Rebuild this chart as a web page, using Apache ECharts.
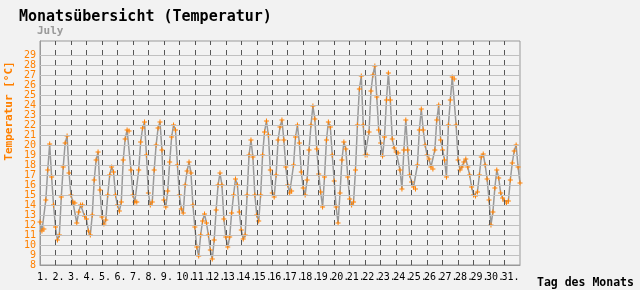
<!DOCTYPE html>
<html>
<head>
<meta charset="utf-8">
<script src="https://cdn.jsdelivr.net/npm/echarts@6/dist/echarts.min.js"></script>
<style>
html,body{margin:0;padding:0;background:#f2f2f2;}
#chart{width:640px;height:290px;}
</style>
</head>
<body>
<div id="chart"></div>
<script>
// Readings every 3 hours (0,3,...,21 h) for each day of July
const hours = [0, 3, 6, 9, 12, 15, 18, 21];
const day01 = [12.3, 11.4, 11.6, 14.5, 17.5, 20.1, 16.8, 14.0];
const day02 = [11.8, 10.5, 11.0, 14.8, 17.8, 20.2, 20.9, 17.2];
const day03 = [15.0, 14.3, 14.2, 12.2, 13.3, 14.0, 14.0, 12.9];
const day04 = [12.6, 11.4, 11.0, 13.0, 16.5, 18.5, 19.3, 15.5];
const day05 = [12.8, 12.1, 12.5, 15.0, 17.0, 17.8, 17.3, 15.0];
const day06 = [14.0, 13.4, 14.3, 18.5, 20.6, 21.5, 21.4, 17.5];
const day07 = [15.0, 14.3, 14.3, 17.5, 20.3, 21.7, 22.3, 19.0];
const day08 = [15.2, 14.0, 14.3, 17.5, 20.0, 21.7, 22.3, 19.5];
const day09 = [14.5, 13.8, 15.4, 18.3, 20.8, 22.0, 21.5, 18.0];
const day10 = [15.0, 13.6, 13.2, 16.0, 17.4, 18.3, 17.2, 14.0];
const day11 = [11.8, 9.8, 8.9, 11.0, 12.4, 13.1, 12.2, 11.0];
const day12 = [9.5, 8.6, 10.5, 13.5, 16.0, 17.2, 16.0, 12.6];
const day13 = [10.8, 9.8, 10.8, 13.2, 15.0, 16.6, 16.0, 13.3];
const day14 = [11.5, 10.6, 11.0, 15.0, 19.0, 20.5, 18.8, 15.0];
const day15 = [13.0, 12.4, 15.0, 19.0, 21.3, 22.4, 21.0, 17.5];
const day16 = [15.2, 14.8, 17.0, 20.5, 21.8, 22.5, 20.5, 17.8];
const day17 = [16.0, 15.2, 15.4, 18.0, 20.8, 22.0, 20.2, 17.3];
const day18 = [15.7, 15.0, 16.5, 19.5, 22.0, 23.9, 22.6, 19.6];
const day19 = [17.1, 15.3, 13.8, 16.8, 20.5, 22.3, 21.8, 19.0];
const day20 = [16.4, 13.8, 12.2, 15.2, 18.5, 20.3, 19.6, 16.8];
const day21 = [14.6, 14.0, 14.3, 17.5, 22.0, 25.6, 26.9, 22.0];
const day22 = [19.0, 19.0, 21.3, 25.4, 27.0, 27.9, 24.8, 21.5];
const day23 = [20.2, 18.9, 20.8, 24.5, 27.2, 24.5, 20.6, 19.7];
const day24 = [19.3, 19.2, 17.5, 15.6, 19.5, 22.5, 19.5, 17.0];
const day25 = [16.3, 15.8, 15.6, 18.0, 21.5, 23.6, 21.5, 20.0];
const day26 = [19.0, 18.6, 17.8, 17.6, 19.5, 22.5, 24.0, 20.5];
const day27 = [19.5, 18.5, 16.8, 22.0, 24.5, 26.8, 26.6, 22.0];
const day28 = [18.5, 17.5, 17.8, 18.3, 18.6, 17.8, 17.0, 15.8];
const day29 = [15.0, 14.9, 15.3, 17.0, 18.8, 19.1, 18.0, 16.6];
const day30 = [14.5, 12.0, 13.3, 15.7, 17.5, 16.7, 15.2, 14.7];
const day31 = [14.4, 14.2, 14.4, 16.5, 18.2, 19.4, 20.0, 17.8];
const finalReading = 16.2; // end of the month (24:00 on day 31)

const days = [day01, day02, day03, day04, day05, day06, day07, day08, day09, day10,
  day11, day12, day13, day14, day15, day16, day17, day18, day19, day20,
  day21, day22, day23, day24, day25, day26, day27, day28, day29, day30, day31];
const dayLabels = days.map((_, i) => (i + 1) + '.');
const tempTicks = [8, 9, 10, 11, 12, 13, 14, 15, 16, 17, 18, 19, 20, 21, 22, 23, 24, 25, 26, 27, 28, 29];

const points = [];
days.forEach((vals, d) => {
  vals.forEach((v, i) => points.push([d + hours[i] / 24, v]));
});
points.push([days.length, finalReading]);

const gridLines = [];
tempTicks.filter(v => v > tempTicks[0]).forEach(v => gridLines.push({
  yAxis: v, lineStyle: { color: '#c0c0c0', width: 1, type: 'solid' }
}));
for (let d = 1; d < days.length; d++) {
  gridLines.push({ xAxis: d, lineStyle: { color: '#555', width: 1, type: [5, 5] } });
}

const mono = 'DejaVu Sans Mono';
const chart = echarts.init(document.getElementById('chart'), null, { renderer: 'canvas' });
chart.setOption({
  backgroundColor: '#f2f2f2',
  animation: false,
  title: [
    { text: 'Monatsübersicht (Temperatur)', left: 19, top: 10, padding: 0,
      textStyle: { fontFamily: mono, fontSize: 15, fontWeight: 'bold', color: '#000' } },
    { text: 'July', left: 37, top: 26, padding: 0,
      textStyle: { fontFamily: mono, fontSize: 11, fontWeight: 'bold', color: '#9a9a9a' } }
  ],
  graphic: [
    { type: 'text', x: 9, y: 111, rotation: Math.PI / 2,
      style: { text: 'Temperatur [°C]', fill: '#ff8000', font: 'bold 11px "DejaVu Sans Mono"',
        align: 'center', verticalAlign: 'middle' } },
    { type: 'text', x: 537, y: 283,
      style: { text: 'Tag des Monats', fill: '#000', font: 'bold 11.5px "DejaVu Sans Mono"',
        align: 'left', verticalAlign: 'middle' } }
  ],
  grid: { left: 40, right: 120, top: 41, bottom: 25, show: true, borderColor: '#999',
    borderWidth: 1, backgroundColor: 'transparent', outerBoundsMode: 'none', containLabel: false },
  xAxis: {
    type: 'value', min: 0, max: days.length, interval: 1,
    axisLine: { show: true, lineStyle: { color: '#999', width: 1 } },
    axisTick: { show: false },
    splitLine: { show: false },
    axisLabel: {
      margin: 7, color: '#000', fontFamily: mono, fontSize: 10, align: 'center',
      formatter: v => (Number.isInteger(v) && v < days.length) ? '{t|' + dayLabels[v] + '}' : '',
      rich: { t: { width: 6, align: 'left', fontFamily: mono, fontSize: 10, color: '#000' } }
    }
  },
  yAxis: {
    type: 'value', min: 8, max: 30.4, interval: 1,
    axisLine: { show: true, lineStyle: { color: '#999', width: 1 } },
    axisTick: { show: false },
    splitLine: { show: false },
    axisLabel: {
      margin: 4, color: '#ff8000', fontFamily: mono, fontSize: 10,
      formatter: v => tempTicks.indexOf(v) >= 0 ? String(v) : ''
    }
  },
  series: [
    { type: 'line', data: [], z: 1, silent: true,
      markLine: { silent: true, symbol: 'none', label: { show: false }, animation: false, data: gridLines } },
    { type: 'line', data: points, z: 3, silent: true, showAllSymbol: true,
      symbol: 'path://M2,0h1v2h2v1h-2v2h-1v-2h-2v-1h2z', symbolSize: 5,
      itemStyle: { color: '#ff8000' },
      lineStyle: { color: '#999', width: 1.5 } }
  ]
});
</script>
</body>
</html>
